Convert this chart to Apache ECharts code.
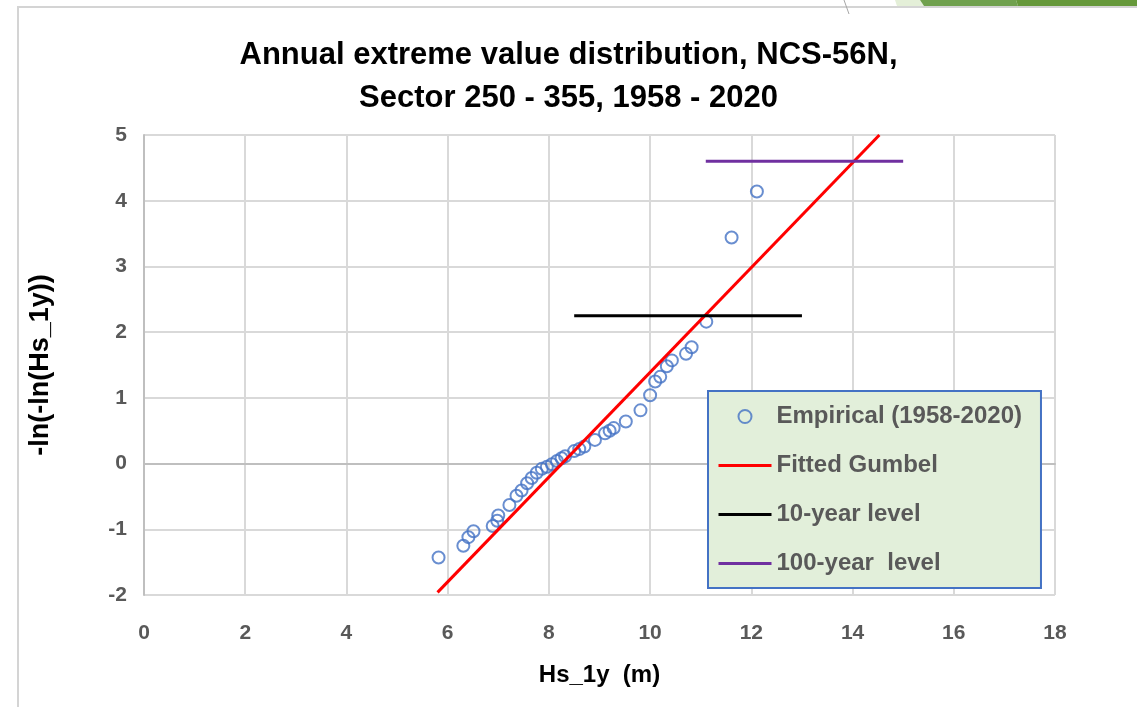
<!DOCTYPE html>
<html>
<head>
<meta charset="utf-8">
<script src="https://cdn.jsdelivr.net/npm/echarts@6/dist/echarts.min.js"></script>
<style>
html,body{margin:0;padding:0;background:#fff;}
#chart{width:1137px;height:707px;}
</style>
</head>
<body>
<div id="chart"></div>
<script>
// Empirical points: Hs_1y (m) and reduced variate -ln(-ln(P))
const empiricalHs = [5.82, 6.31, 6.41, 6.51, 6.89, 6.98, 7.00, 7.22, 7.36, 7.46, 7.57, 7.66, 7.76, 7.86, 7.96, 8.06, 8.16, 8.25, 8.32, 8.50, 8.60, 8.70, 8.91, 9.11, 9.20, 9.28, 9.52, 9.81, 10.00, 10.10, 10.20, 10.33, 10.43, 10.71, 10.82, 11.11, 11.61, 12.11];
const empiricalY  = [-1.43, -1.25, -1.12, -1.03, -0.95, -0.87, -0.79, -0.63, -0.49, -0.41, -0.30, -0.22, -0.14, -0.08, -0.05, -0.01, 0.04, 0.08, 0.11, 0.19, 0.22, 0.26, 0.36, 0.46, 0.50, 0.54, 0.64, 0.81, 1.04, 1.25, 1.32, 1.48, 1.57, 1.67, 1.77, 2.16, 3.44, 4.14];
// Fitted Gumbel line endpoints
const gumbelX = [5.8, 14.53];
const gumbelY = [-1.96, 5.0];
// Return levels
const level10X = [8.5, 13];
const level10Y = [2.25, 2.25];
const level100X = [11.1, 15];
const level100Y = [4.6, 4.6];
// Axis ticks
const xTicks = [0, 2, 4, 6, 8, 10, 12, 14, 16, 18];
const yTicks = [-2, -1, 0, 1, 2, 3, 4, 5];

const zip = (a, b) => a.map((v, i) => [v, b[i]]);
const FONT = '"Liberation Sans", Arial, sans-serif';

const chart = echarts.init(document.getElementById('chart'));
chart.setOption({
  backgroundColor: '#ffffff',
  animation: false,
  title: {
    text: 'Annual extreme value distribution, NCS-56N,\nSector 250 - 355, 1958 - 2020',
    left: 'center',
    top: 29,
    textStyle: { fontFamily: FONT, fontSize: 31, fontWeight: 'bold', color: '#000', lineHeight: 43 }
  },
  grid: { left: 144, top: 135, right: 82, bottom: 112, containLabel: false },
  xAxis: {
    type: 'value', min: xTicks[0], max: xTicks[xTicks.length - 1], interval: 2,
    name: 'Hs_1y  (m)', nameLocation: 'middle', nameGap: 68,
    nameTextStyle: { fontFamily: FONT, fontSize: 24, fontWeight: 'bold', color: '#000' },
    axisLine: { show: true, lineStyle: { color: '#BFBFBF', width: 2 } },
    axisTick: { show: false },
    axisLabel: { fontFamily: FONT, fontSize: 21, fontWeight: 'bold', color: '#595959', margin: 28 },
    splitLine: { show: true, lineStyle: { color: '#D9D9D9', width: 2 } }
  },
  yAxis: {
    type: 'value', min: yTicks[0], max: yTicks[yTicks.length - 1], interval: 1,
    name: '-ln(-ln(Hs_1y))', nameLocation: 'middle', nameGap: 90, nameRotate: 90,
    nameTextStyle: { fontFamily: FONT, fontSize: 27, fontWeight: 'bold', color: '#000' },
    axisLine: { show: true, lineStyle: { color: '#BFBFBF', width: 2 } },
    axisTick: { show: false },
    axisLabel: { fontFamily: FONT, fontSize: 21, fontWeight: 'bold', color: '#595959', margin: 17 },
    splitLine: { show: true, lineStyle: { color: '#D9D9D9', width: 2 } }
  },
  legend: {
    orient: 'vertical',
    left: 708, top: 391,
    padding: [13, 19, 12, 9],
    itemGap: 24,
    itemWidth: 53, itemHeight: 13,
    backgroundColor: '#E2EFDA',
    borderColor: '#4472C4', borderWidth: 2, borderRadius: 0,
    lineStyle: { width: 3 },
    textStyle: { fontFamily: FONT, fontSize: 24, fontWeight: 'bold', color: '#595959', lineHeight: 25 },
    data: [
      { name: 'Empirical (1958-2020)' },
      { name: 'Fitted Gumbel', itemStyle: { opacity: 0 } },
      { name: '10-year level', itemStyle: { opacity: 0 } },
      { name: '100-year  level', itemStyle: { opacity: 0 } }
    ]
  },
  graphic: [
    { type: 'rect', shape: { x: 18, y: 7, width: 1200, height: 800 }, style: { fill: 'none', stroke: '#D4D4D4', lineWidth: 2 }, silent: true, z: -10 },
    { type: 'line', shape: { x1: 844, y1: 0, x2: 849, y2: 14 }, style: { stroke: '#A6A6A6', lineWidth: 1 }, silent: true },
    { type: 'polygon', shape: { points: [[895, 0], [920, 0], [924, 6], [897, 6]] }, style: { fill: '#E4EFD8' }, silent: true },
    { type: 'polygon', shape: { points: [[920, 0], [1016, 0], [1018, 6], [924, 6]] }, style: { fill: '#70A14E' }, silent: true },
    { type: 'polygon', shape: { points: [[1016, 0], [1137, 0], [1137, 6], [1018, 6]] }, style: { fill: '#66993B' }, silent: true }
  ],
  series: [
    {
      name: 'Empirical (1958-2020)', type: 'scatter',
      data: zip(empiricalHs, empiricalY),
      symbol: 'circle', symbolSize: 12,
      itemStyle: { color: 'rgba(255,255,255,0)', borderColor: '#4472C4', borderWidth: 2 },
      z: 2
    },
    {
      name: 'Fitted Gumbel', type: 'line',
      data: zip(gumbelX, gumbelY),
      symbol: 'none', lineStyle: { color: '#FF0000', width: 3 }, itemStyle: { color: '#FF0000' }, z: 3
    },
    {
      name: '10-year level', type: 'line',
      data: zip(level10X, level10Y),
      symbol: 'none', lineStyle: { color: '#000000', width: 3 }, itemStyle: { color: '#000000' }, z: 3
    },
    {
      name: '100-year  level', type: 'line',
      data: zip(level100X, level100Y),
      symbol: 'none', lineStyle: { color: '#7030A0', width: 3 }, itemStyle: { color: '#7030A0' }, z: 3
    }
  ]
});
</script>
</body>
</html>
